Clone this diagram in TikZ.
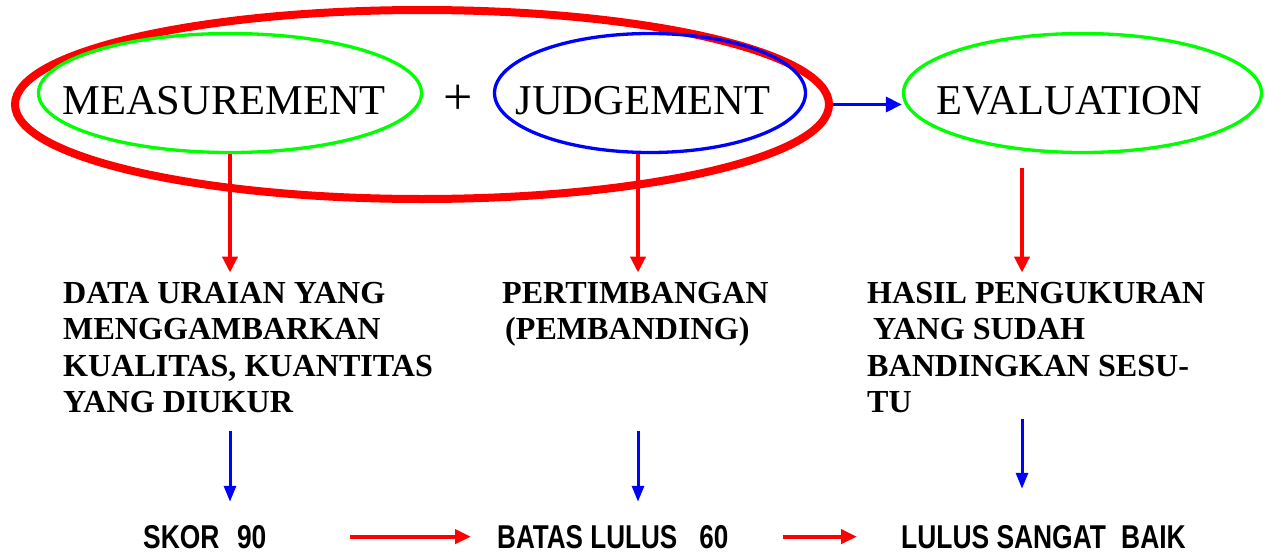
\documentclass[tikz,border=0pt]{standalone}
\usepackage{fontspec}
\usepackage{graphicx}
\setmainfont{Liberation Serif}
\newfontfamily\arialf{Liberation Sans}
\usetikzlibrary{shapes.geometric,arrows.meta}
\definecolor{rgreen}{RGB}{0,255,0}
\definecolor{rred}{RGB}{255,0,0}
\definecolor{rblue}{RGB}{0,0,255}
\begin{document}
\begin{tikzpicture}[x=1pt,y=-1pt,
  ell/.style={ellipse,draw,inner sep=0pt,line width=3.3pt},
  toptext/.style={font=\fontsize{42.5}{50}\selectfont,inner sep=0pt,anchor=base},
  midtext/.style={font=\bfseries\fontsize{32.1}{36.5}\selectfont,align=left,inner sep=0pt,anchor=base west},
  bottext/.style={font=\arialf\bfseries\fontsize{33}{38}\selectfont,inner sep=0pt,anchor=base west},
  redarrow/.style={draw=rred,line width=4pt,-{Triangle[length=16pt,width=15pt]}},
  redharrow/.style={draw=rred,line width=4pt,-{Triangle[length=16pt,width=14pt]}},
  bluearrow/.style={draw=rblue,line width=3.3pt,-{Triangle[length=16pt,width=15pt]}},
  bluevarrow/.style={draw=rblue,line width=3pt,-{Triangle[length=16pt,width=12pt]}}
]
\useasboundingbox (0,0) rectangle (1265,554);
\node[ell,draw=rred,line width=8pt,minimum width=814pt,minimum height=189pt] (mj) at (422,104.5) {};
\node[ell,draw=rgreen,minimum width=383pt,minimum height=119pt] (meas) at (230,93) {};
\node[ell,draw=rblue,minimum width=311pt,minimum height=119pt] (judg) at (650,93) {};
\node[ell,draw=rgreen,minimum width=358pt,minimum height=119pt] (eval) at (1082.5,93) {};
\node[toptext] (meast) at (224,114) {MEASUREMENT};
\node[toptext,font=\fontsize{52}{60}\selectfont] (plus) at (458,114.5) {+};
\node[toptext] (judgt) at (643,114) {JUDGEMENT};
\node[toptext] (evalt) at (1069.5,114) {EVALUATION};
\node[midtext] (data) at (63,412.5) {DATA URAIAN YANG\\MENGGAMBARKAN\\KUALITAS, KUANTITAS\\YANG DIUKUR};
\node[midtext] (pert) at (502,339.5) {PERTIMBANGAN\\\hspace*{3pt}(PEMBANDING)};
\node[midtext] (hasil) at (867,412.5) {HASIL PENGUKURAN\\\hspace*{6pt}YANG SUDAH\\BANDINGKAN SESU-\\TU};
\node[bottext] (skor) at (143,548) {\scalebox{0.8}[1]{SKOR\hspace{22pt}90}};
\node[bottext] (batas) at (497,548) {\scalebox{0.79}[1]{BATAS LULUS\hspace{28pt}60}};
\node[bottext] (lulus) at (901,548) {\scalebox{0.8}[1]{LULUS SANGAT\hspace{19pt}BAIK}};
\coordinate (jx) at ([xshift=-12pt]judg.south);
\coordinate (ex) at ([xshift=-60.5pt]eval.south);
\draw[redarrow,shorten >=9pt] (meas.south) -- (meas.south |- data.north);
\draw[redarrow,shorten >=9pt] (jx) -- (jx |- pert.north);
\draw[redarrow,shorten <=13.5pt,shorten >=9pt] (ex) -- (ex |- hasil.north);
\draw[bluearrow] (mj.east) -- (mj.east -| eval.west);
\draw[bluevarrow,shorten <=17.5pt,shorten >=23pt] (meas.south |- data.south) -- (meas.south |- skor.north);
\draw[bluevarrow,shorten <=17.5pt,shorten >=23pt] (jx |- data.south) -- (jx |- batas.north);
\draw[bluevarrow,shorten <=5.5pt,shorten >=36pt] (ex |- hasil.south) -- (ex |- lulus.north);
\draw[redharrow,shorten <=83pt,shorten >=26pt] (skor.east) -- (batas.west);
\draw[redharrow,shorten <=54pt,shorten >=44pt] (batas.east) -- (lulus.west);
\end{tikzpicture}
\end{document}
